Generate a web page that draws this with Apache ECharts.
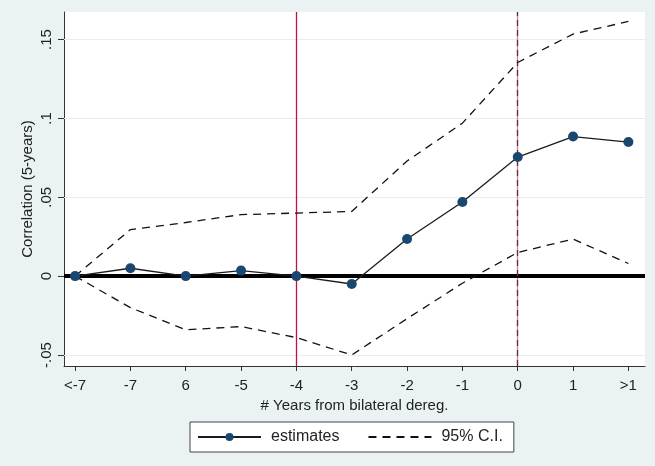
<!DOCTYPE html>
<html>
<head>
<meta charset="utf-8">
<script src="https://cdn.jsdelivr.net/npm/echarts@6/dist/echarts.min.js"></script>
<style>
  html, body { margin: 0; padding: 0; background: #eaf2f3; }
  #chart { width: 655px; height: 466px; }
</style>
</head>
<body>
<div id="chart"></div>
<script>
const categories = ['<-7', '-7', '6', '-5', '-4', '-3', '-2', '-1', '0', '1', '>1']
const estimates = [0, 0.005, 0, 0.0035, 0, -0.005, 0.0235, 0.047, 0.0755, 0.0885, 0.085]
const ciUpper = [0, 0.0295, 0.034, 0.039, 0.040, 0.041, 0.073, 0.097, 0.1355, 0.1535, 0.1615]
const ciLower = [0, -0.020, -0.034, -0.032, -0.039, -0.050, -0.027, -0.0045, 0.015, 0.0235, 0.008]
const yTicks = [-0.05, 0, 0.05, 0.1, 0.15]
const yTickLabels = ['-.05', '0', '.05', '.1', '.15']

const font = 'Liberation Sans, Arial, sans-serif'
const toPairs = (arr) => arr.map((v, i) => [i, v])
const xTicks = categories.map((c, i) => i)

const chart = echarts.init(document.getElementById('chart'))

const option = {
  backgroundColor: '#eaf2f3',
  animation: false,
  textStyle: { fontFamily: font },
  grid: {
    left: 64,
    right: 10,
    top: 12,
    bottom: 100,
    show: true,
    backgroundColor: '#ffffff',
    borderWidth: 0
  },
  legend: {
    bottom: 14,
    left: 190,
    data: ['estimates', '95% C.I.'],
    backgroundColor: '#ffffff',
    borderColor: '#444',
    borderWidth: 1,
    borderRadius: 0,
    padding: [7, 11, 7, 7],
    itemGap: 28,
    itemWidth: 63,
    itemHeight: 10,
    textStyle: { color: '#222', fontSize: 16, fontFamily: font, padding: [0, 0, 0, 5] }
  },
  xAxis: {
    type: 'value',
    min: -0.2,
    max: 10.3,
    name: '# Years from bilateral dereg.',
    nameLocation: 'middle',
    nameGap: 30,
    nameTextStyle: { color: '#222', fontSize: 15 },
    axisLine: { show: true, onZero: false, lineStyle: { color: '#333', width: 1 } },
    axisTick: { show: true, length: 5, customValues: xTicks, lineStyle: { color: '#333' } },
    axisLabel: {
      customValues: xTicks,
      color: '#222',
      fontSize: 15,
      margin: 12,
      formatter: (v) => categories[Math.round(v)]
    },
    splitLine: { show: false }
  },
  yAxis: {
    type: 'value',
    min: -0.057,
    max: 0.1675,
    name: 'Correlation (5-years)',
    nameLocation: 'middle',
    nameGap: 29,
    nameMoveOverlap: false,
    nameTextStyle: { color: '#222', fontSize: 15 },
    axisLine: { show: true, onZero: false, lineStyle: { color: '#333', width: 1 } },
    axisTick: { show: true, length: 6, customValues: yTicks, lineStyle: { color: '#333' } },
    axisLabel: {
      customValues: yTicks,
      rotate: 90,
      color: '#222',
      fontSize: 15,
      margin: 10,
      formatter: (v) => {
        const i = yTicks.findIndex(t => Math.abs(t - v) < 1e-9)
        return i >= 0 ? yTickLabels[i] : ''
      }
    },
    splitLine: { show: false }
  },
  series: [
    {
      name: 'gridlines',
      type: 'line',
      data: [],
      silent: true,
      markLine: {
        symbol: 'none',
        silent: true,
        label: { show: false },
        lineStyle: { color: '#e6eef0', width: 1, type: 'solid' },
        data: yTicks.filter(v => v !== 0).map(v => ({ yAxis: v }))
      }
    },
    {
      name: 'reflines',
      type: 'line',
      data: [],
      silent: true,
      z: 3,
      markLine: {
        symbol: 'none',
        silent: true,
        label: { show: false },
        data: [
          { xAxis: 4, lineStyle: { color: '#c4123f', width: 1.3, type: 'solid' } },
          { xAxis: 8, lineStyle: { color: '#e07a98', width: 1.3, type: 'solid' } },
          { yAxis: 0, lineStyle: { color: '#000000', width: 4, type: 'solid' } }
        ]
      }
    },
    {
      name: 'reflines2',
      type: 'line',
      data: [],
      silent: true,
      z: 4,
      markLine: {
        symbol: 'none',
        silent: true,
        label: { show: false },
        data: [
          { xAxis: 8, lineStyle: { color: '#5a3440', width: 1.3, type: [6, 4] } }
        ]
      }
    },
    {
      name: '95% C.I.',
      type: 'line',
      data: toPairs(ciUpper),
      symbol: 'none',
      z: 5,
      lineStyle: { color: '#111', width: 1.3, type: [8, 6] },
      itemStyle: { color: 'rgba(0,0,0,0)' }
    },
    {
      name: '95% C.I.',
      type: 'line',
      data: toPairs(ciLower),
      symbol: 'none',
      z: 5,
      lineStyle: { color: '#111', width: 1.3, type: [8, 6] },
      itemStyle: { color: 'rgba(0,0,0,0)' }
    },
    {
      name: 'estimates',
      type: 'line',
      data: toPairs(estimates),
      symbol: 'circle',
      symbolSize: 10,
      z: 6,
      lineStyle: { color: '#1b1b1b', width: 1.3 },
      itemStyle: { color: '#1a476f', borderWidth: 0 }
    }
  ]
}

chart.setOption(option)
</script>
</body>
</html>
